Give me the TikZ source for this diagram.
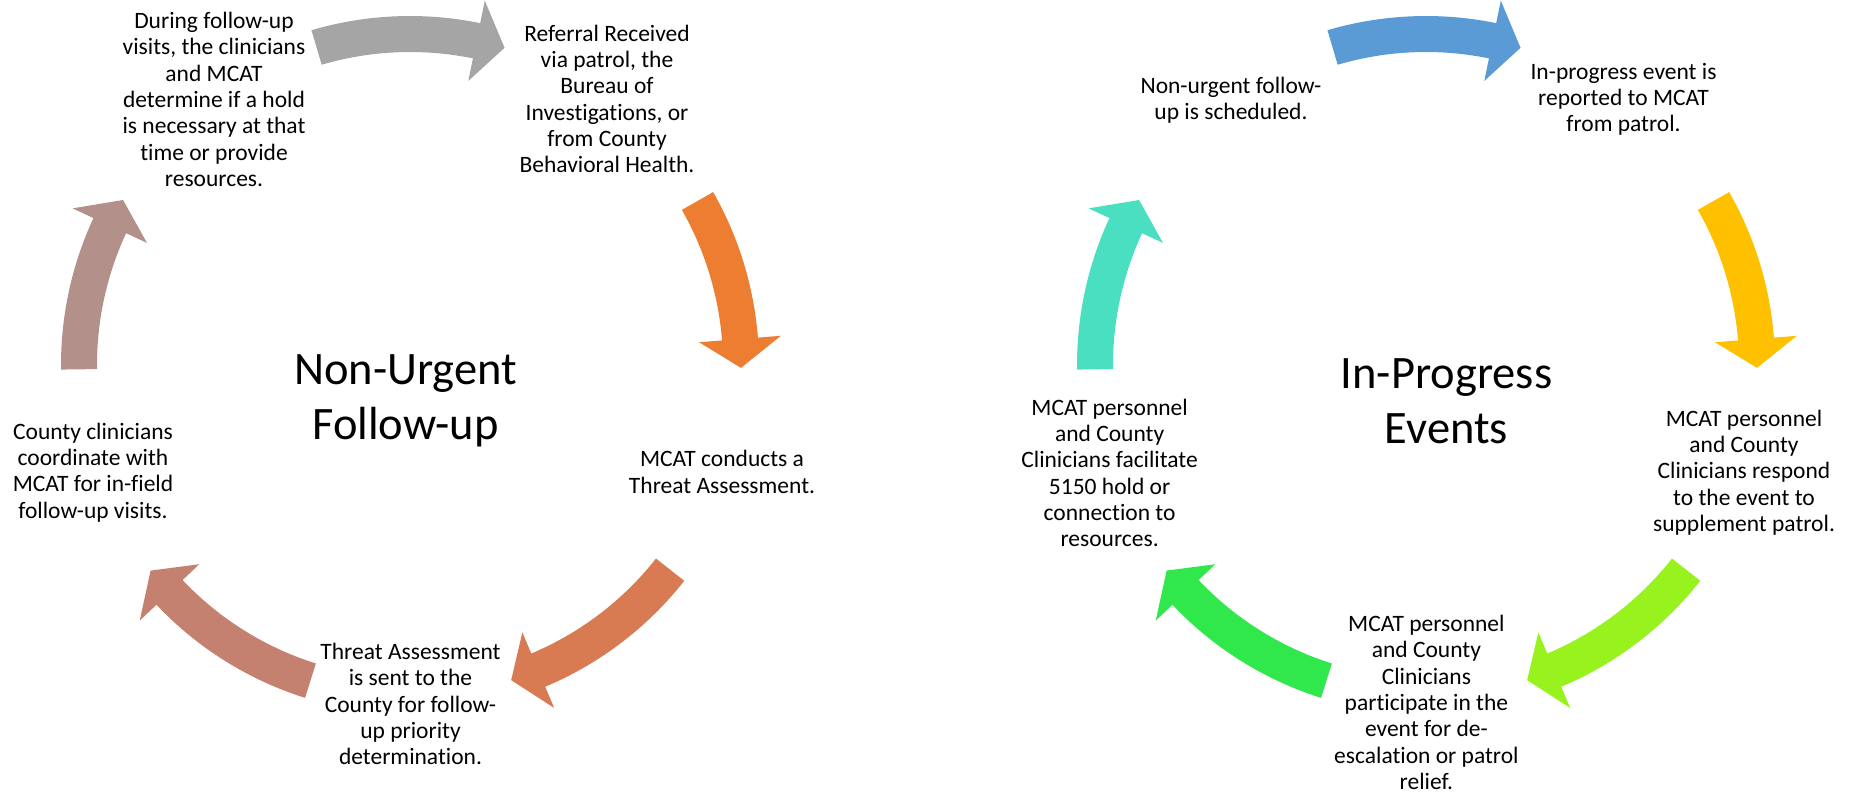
\documentclass[tikz,border=0pt]{standalone}
\usepackage{fontspec}
\setmainfont{Carlito}[Ligatures={NoCommon}]
\usepackage{tikz}

\definecolor{stepgray}{HTML}{A5A5A5}
\definecolor{steporange}{HTML}{ED7D31}
\definecolor{stepclay}{HTML}{D87B53}
\definecolor{steprose}{HTML}{C48170}
\definecolor{stepmauve}{HTML}{B4908A}
\definecolor{stepblue}{HTML}{5B9BD5}
\definecolor{stepgold}{HTML}{FFC000}
\definecolor{steplime}{HTML}{97F21D}
\definecolor{stepgreen}{HTML}{30E84C}
\definecolor{stepteal}{HTML}{4ADFC0}

% curved cycle arrow: #1 centre, #2 tail angle, #3 tip angle, #4 colour
\newcommand{\cyclearrow}[4]{%
  \begin{scope}[shift={(#1)}]
    \fill[#4] (#2:349) arc[start angle=#2, end angle=#3+5, radius=349]
      -- (#3+5:372) -- (#3:331) -- (#3+5:290) -- (#3+5:313)
      arc[start angle=#3+5, end angle=#2, radius=313] -- cycle;
  \end{scope}}

\tikzset{
  steptext/.style={align=center, inner sep=0pt, font=\fontsize{23.5}{26.3}\selectfont},
  cycletitle/.style={align=center, inner sep=0pt, font=\fontsize{46.5}{55}\selectfont},
}

\begin{document}
\begin{tikzpicture}[x=1pt, y=1pt]
  \useasboundingbox (0,0) rectangle (1849,793);
  \coordinate (lc) at (410,428);
  \coordinate (rc) at (1426,428);

  % Non-Urgent cycle
  \cyclearrow{lc}{106.4}{73.4}{stepgray}
  \cyclearrow{lc}{29.7}{-0.5}{steporange}
  \cyclearrow{lc}{-38.2}{-72.2}{stepclay}
  \cyclearrow{lc}{-107.5}{-141.6}{steprose}
  \cyclearrow{lc}{180.75}{150.1}{stepmauve}

  \node[cycletitle] (nutitle) at (405.5,392) {Non-Urgent\\Follow-up};
  \node[steptext] (referral) at (607,694) {Referral Received\\via patrol, the\\Bureau of\\Investigations, or\\from County\\Behavioral Health.};
  \node[steptext] (assess) at (722,321) {MCAT conducts a\\Threat Assessment.};
  \node[steptext] (sent) at (410.5,89) {Threat Assessment\\is sent to the\\County for follow-\\up priority\\determination.};
  \node[steptext] (coord) at (93,320.5) {County clinicians\\coordinate with\\MCAT for in-field\\follow-up visits.};
  \node[steptext] (visits) at (214,693.5) {During follow-up\\visits, the clinicians\\and MCAT\\determine if a hold\\is necessary at that\\time or provide\\resources.};

  % In-Progress cycle
  \cyclearrow{rc}{106.4}{73.4}{stepblue}
  \cyclearrow{rc}{29.7}{-0.5}{stepgold}
  \cyclearrow{rc}{-38.2}{-72.2}{steplime}
  \cyclearrow{rc}{-107.5}{-141.6}{stepgreen}
  \cyclearrow{rc}{180.75}{150.1}{stepteal}

  \node[cycletitle] (iptitle) at (1446.5,392) {In-Progress\\Events};
  \node[steptext] (reported) at (1623.5,693.5) {In-progress event is\\reported to MCAT\\from patrol.};
  \node[steptext] (respond) at (1744,320.5) {MCAT personnel\\and County\\Clinicians respond\\to the event to\\supplement patrol.};
  \node[steptext] (participate) at (1426.4,90.5) {MCAT personnel\\and County\\Clinicians\\participate in the\\event for de-\\escalation or patrol\\relief.};
  \node[steptext] (facilitate) at (1109.6,320) {MCAT personnel\\and County\\Clinicians facilitate\\5150 hold or\\connection to\\resources.};
  \node[steptext] (scheduled) at (1231,693) {Non-urgent follow-\\up is scheduled.};
\end{tikzpicture}
\end{document}
